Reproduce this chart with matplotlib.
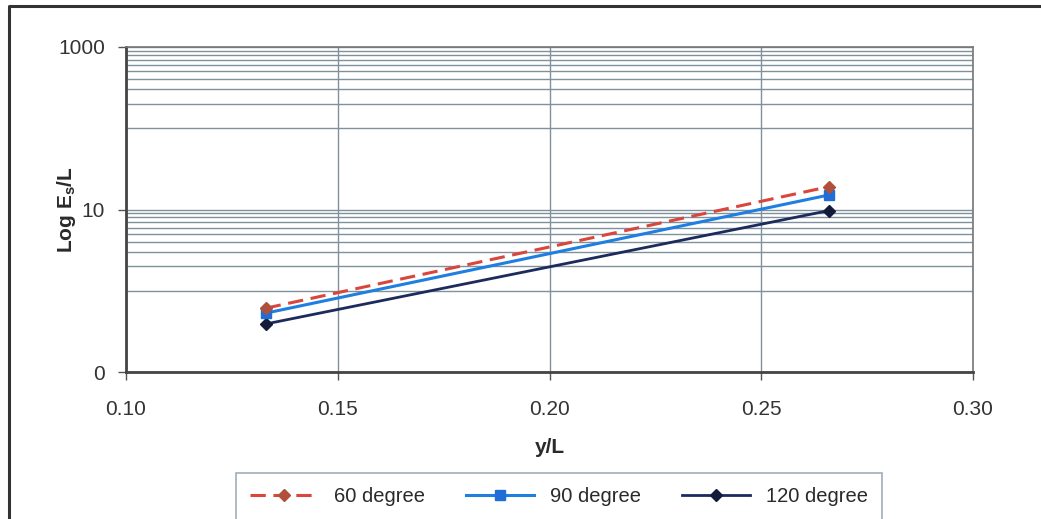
"""
Log Es/L against y/L for three angles (60, 90, 120 degree).
"""

import numpy as np
import matplotlib.pyplot as plt
from matplotlib.lines import Line2D
from matplotlib.ticker import FixedLocator, FuncFormatter, NullFormatter

# --- DATA ---
y_over_L = [0.133, 0.266]
es_60 = [0.61, 19.1]
es_90 = [0.53, 15.1]
es_120 = [0.39, 9.7]
labels = ["60 degree", "90 degree", "120 degree"]

plt.rcParams['font.family'] = ['Liberation Sans', 'DejaVu Sans']

W, H = 1041, 519
fig = plt.figure(figsize=(W / 100, H / 100), dpi=100)
ax = fig.add_axes([126 / W, 1 - 372 / H, 847 / W, 325 / H])

ax.plot(y_over_L, es_60, linestyle=(0, (5, 2.5)), color='#D8463C', lw=2.2,
        marker='D', ms=6.5, mfc='#B0503A', mec='#B0503A', label=labels[0], zorder=5)
ax.plot(y_over_L, es_90, '-', color='#1E7FE0', lw=2.2,
        marker='s', ms=7.5, mfc='#1F6ED8', mec='#1F6ED8', label=labels[1], zorder=4)
ax.plot(y_over_L, es_120, '-', color='#1D2A5C', lw=2.0,
        marker='D', ms=6, mfc='#141B3A', mec='#141B3A', label=labels[2], zorder=3)

ax.set_yscale('log')
ax.set_ylim(0.1, 1000)
ax.set_xlim(0.10, 0.30)

ax.yaxis.set_major_locator(FixedLocator([0.1, 10, 1000]))
ax.yaxis.set_major_formatter(FuncFormatter(lambda v, p: f"{v:.0f}"))
minor = [k * 1.0 for k in range(1, 10)] + [k * 100.0 for k in range(1, 10)]
ax.yaxis.set_minor_locator(FixedLocator(minor))
ax.yaxis.set_minor_formatter(NullFormatter())
ax.xaxis.set_major_locator(FixedLocator([0.10, 0.15, 0.20, 0.25, 0.30]))
ax.xaxis.set_major_formatter(FuncFormatter(lambda v, p: f"{v:.2f}"))

grid_col = '#7F929C'
ax.grid(True, which='major', axis='both', color=grid_col, lw=1.0)
ax.grid(True, which='minor', axis='y', color=grid_col, lw=1.0)
ax.set_axisbelow(True)

ax.tick_params(axis='both', which='major', direction='out', length=6,
               width=1, color='#555555', labelsize=15, labelcolor='#333333')
ax.tick_params(axis='x', which='major', pad=14)
ax.tick_params(axis='y', which='major', pad=9)
ax.tick_params(axis='y', which='minor', length=0)
for s in ax.spines.values():
    s.set_color('#777777')
    s.set_linewidth(1.2)
ax.spines['left'].set_color('#444444')
ax.spines['left'].set_linewidth(2)
ax.spines['bottom'].set_color('#444444')
ax.spines['bottom'].set_linewidth(2)

ax.set_xlabel('y/L', fontsize=15, fontweight='bold', color='#2A2A2A', labelpad=14)
ax.set_ylabel('Log E$_\\mathregular{s}$/L', fontsize=15, fontweight='bold',
              color='#2A2A2A')
ax.yaxis.set_label_coords(-0.057, 0.5)

leg = fig.legend(loc='upper center', bbox_to_anchor=(559 / W, 1 - 473 / H), ncol=3,
                 fontsize=14.5, handlelength=3.4, columnspacing=2.0, borderpad=0.7,
                 borderaxespad=0, fancybox=False, edgecolor='#8A9AA8', frameon=True)
leg.get_frame().set_linewidth(1.2)
for t in leg.get_texts():
    t.set_color('#2A2A2A')

# chart outer border (left and top visible)
fig.add_artist(Line2D([9 / W, 9 / W, 1], [0, 1 - 6 / H, 1 - 6 / H],
                      transform=fig.transFigure, color='#333333', lw=2.2))

fig.savefig('out.png', dpi=100)
